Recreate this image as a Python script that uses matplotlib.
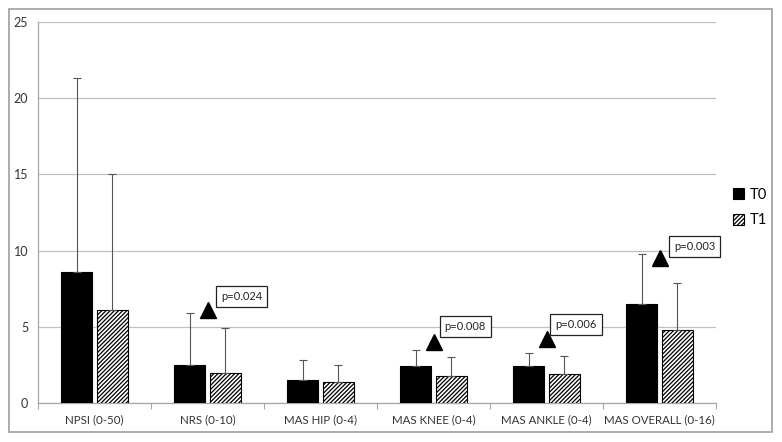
import matplotlib
matplotlib.use("Agg")
import matplotlib.pyplot as plt
from matplotlib.patches import Rectangle
import numpy as np

categories = ["NPSI (0-50)", "NRS (0-10)", "MAS HIP (0-4)", "MAS KNEE (0-4)",
              "MAS ANKLE (0-4)", "MAS OVERALL (0-16)"]
t0_mean = [8.6, 2.5, 1.5, 2.4, 2.4, 6.5]
t0_sd = [12.7, 3.4, 1.3, 1.1, 0.9, 3.3]
t1_mean = [6.1, 2.0, 1.4, 1.8, 1.9, 4.8]
t1_sd = [8.9, 2.9, 1.1, 1.2, 1.2, 3.1]

# significance markers: category index, triangle height, label, label height
sig_idx = [1, 3, 4, 5]
sig_tri_y = [6.1, 4.0, 4.2, 9.5]
sig_labels = ["p=0.024", "p=0.008", "p=0.006", "p=0.003"]
sig_label_y = [7.0, 5.05, 5.15, 10.25]
sig_label_dx = [0.30, 0.28, 0.26, 0.31]

yticks = [0, 5, 10, 15, 20, 25]

plt.rcParams['font.family'] = ['Lato', 'DejaVu Sans']
plt.rcParams['hatch.linewidth'] = 0.9

fig = plt.figure(figsize=(7.82, 4.42), dpi=100)
fig.patches.append(Rectangle((9/782, 1-432/442), 763/782, 423/442, transform=fig.transFigure,
                             fill=False, edgecolor="#a6a6a6", linewidth=1.3, zorder=0))
ax = fig.add_axes([38/782, 1-403/442, 678/782, 381/442])

x = np.arange(len(categories))
w = 0.275
off = w/2 + 0.018
ax.bar(x - off, t0_mean, width=w, color="black", edgecolor="black", linewidth=0.8, zorder=3, label="T0")
ax.bar(x + off, t1_mean, width=w, color="white", edgecolor="black", linewidth=0.8, hatch="////////",
       zorder=3, label="T1")
ekw = dict(fmt="none", ecolor="#555555", elinewidth=0.8, capsize=3, capthick=0.8, zorder=4)
ax.errorbar(x - off, t0_mean, yerr=[np.zeros(6), t0_sd], **ekw)
ax.errorbar(x + off, t1_mean, yerr=[np.zeros(6), t1_sd], **ekw)

for i, ty, lab, ly, dx in zip(sig_idx, sig_tri_y, sig_labels, sig_label_y, sig_label_dx):
    ax.plot([i], [ty], marker="^", markersize=11, color="black", linestyle="none", zorder=5)
    ax.text(i + dx, ly, lab, ha="center", va="center", fontsize=8, color="#222222", zorder=6,
            bbox=dict(boxstyle="square,pad=0.45", facecolor="white", edgecolor="#222222", linewidth=0.9))

ax.set_xlim(-0.5, len(categories) - 0.5)
ax.set_ylim(0, 25)
ax.set_yticks(yticks)
ax.set_yticklabels([str(v) for v in yticks], fontsize=9, color="#333333")
ax.set_xticks(x)
ax.set_xticklabels(categories, fontsize=8.3, color="#333333")
ax.set_xticks(np.arange(-0.5, len(categories)), minor=True)
ax.tick_params(axis="x", which="major", length=0, pad=8)
ax.tick_params(axis="x", which="minor", length=4, color="#a6a6a6", width=0.8)
ax.tick_params(axis="y", length=0, pad=7)
ax.grid(axis="y", color="#c0c0c0", linewidth=0.9, zorder=0)
ax.set_axisbelow(True)
for s in ["top", "right"]:
    ax.spines[s].set_visible(False)
for s in ["left", "bottom"]:
    ax.spines[s].set_color("#a6a6a6")
    ax.spines[s].set_linewidth(0.9)

leg = ax.legend(loc="upper left", bbox_to_anchor=(1.005, 0.6), frameon=False, fontsize=10.5,
                handlelength=0.8, handleheight=0.8, handletextpad=0.4, labelspacing=0.8)

fig.savefig("out.png", dpi=100)
